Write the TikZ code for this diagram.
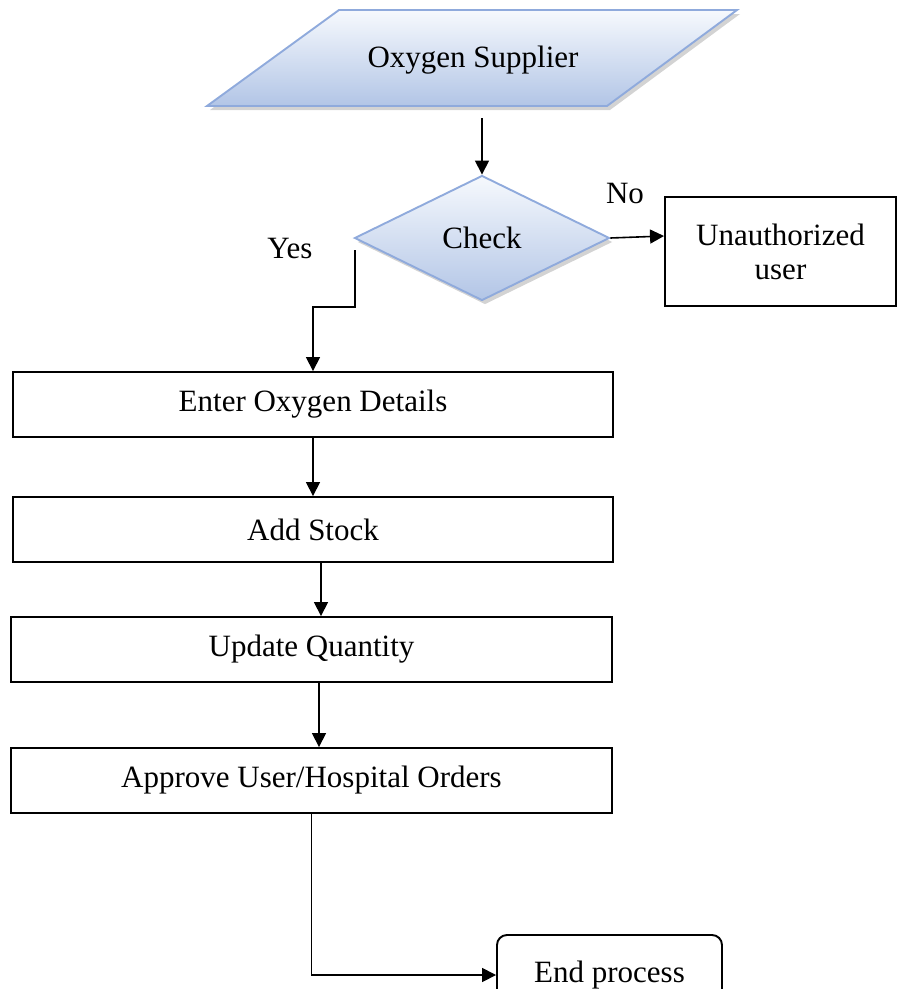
\documentclass[tikz,border=0pt]{standalone}
\usepackage{fontspec}
\setmainfont{Liberation Serif}
\usetikzlibrary{arrows.meta,shapes.geometric,shadows,calc}
\definecolor{bluebd}{RGB}{143,170,220}
\definecolor{bluetop}{RGB}{246,249,253}
\definecolor{bluebot}{RGB}{178,197,230}
\begin{document}
\begin{tikzpicture}[x=1pt,y=-1pt,
  font=\fontsize{31}{34}\selectfont,
  box/.style={draw,line width=1.9pt,inner sep=0pt},
  arr/.style={line width=1.6pt,-{Triangle[length=14pt,width=14pt]}},
  blueshape/.style={draw=bluebd,line width=1.9pt,top color=bluetop,bottom color=bluebot,
    drop shadow={shadow xshift=3pt,shadow yshift=-4pt,opacity=0.35,fill=gray}}]
\useasboundingbox (0,0) rectangle (898,989);
% Oxygen Supplier (parallelogram)
\path[blueshape] (207,106) -- (339,10) -- (737,10) -- (607,106) -- cycle;
\node (sup) at (473,60) {Oxygen Supplier};
\coordinate (supb) at (482,118);
% Check diamond
\node[diamond,blueshape,minimum width=255pt,minimum height=125pt,inner sep=0pt] (chk) at (482,238) {Check};
\draw[arr] (supb) -- (chk.north);
% Unauthorized user
\node[box,minimum width=231pt,minimum height=109pt,align=center] (una) at (780.5,251.5) {Unauthorized\\user};
\draw[arr] (chk.east) -- ([yshift=15.5pt]una.west);
\node (no) at (625,193) {No};
\node (yes) at (290,248) {Yes};
% process boxes
\node[box,minimum width=600pt,minimum height=65pt] (ent) at (313,404.5) {Enter Oxygen Details};
\node[box,minimum width=600pt,minimum height=65pt] (add) at (313,529.5) {Add Stock};
\node[box,minimum width=601pt,minimum height=65pt] (upd) at (311.5,649.5) {Update Quantity};
\node[box,minimum width=601pt,minimum height=65pt] (app) at (311.5,780.5) {Approve User/Hospital Orders};
\node[box,rounded corners=10pt,minimum width=225pt,minimum height=80pt] (end) at (609.5,975) {End process};
% connectors
\coordinate (ys) at (355,250);
\draw[arr] (ys) -- ++(0,57) -| (ent.north);
\draw[arr] (ent.south) -- (add.north);
\draw[arr] ([xshift=8pt]add.south) -- ([xshift=9.5pt]upd.north);
\draw[arr] ([xshift=7.5pt]upd.south) -- ([xshift=7.5pt]app.north);
\draw[arr] (app.south) |- (end.west);
\end{tikzpicture}
\end{document}
